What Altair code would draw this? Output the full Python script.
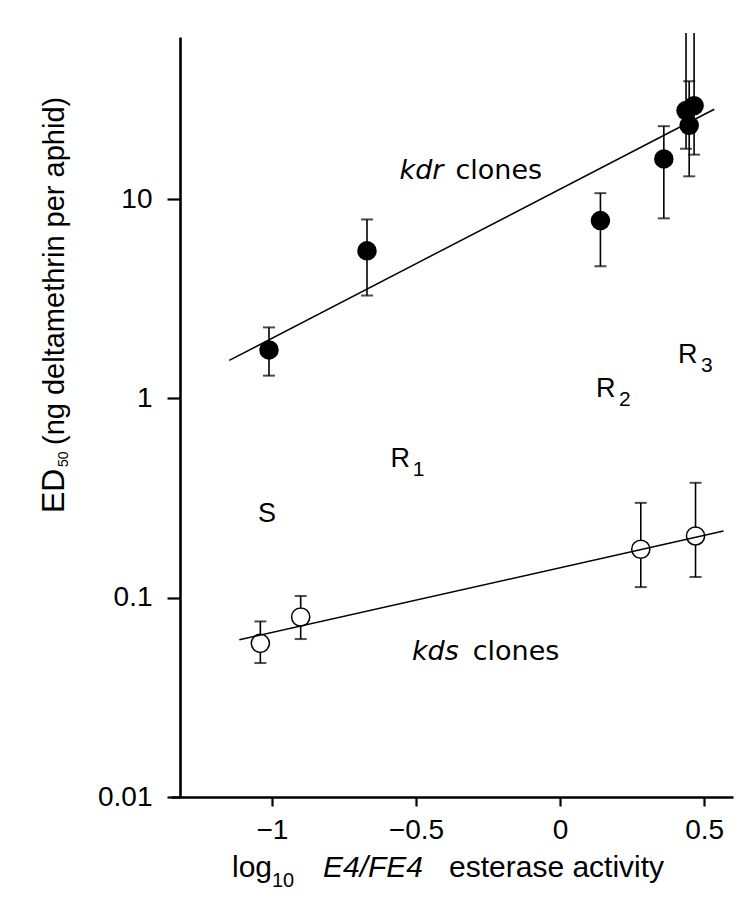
import altair as alt
import pandas as pd

# ---- data ----
# kdr clones (filled circles)
kdr_x = [-1.01, -0.67, 0.14, 0.36, 0.437, 0.465, 0.448]
kdr_y = [1.75, 5.5, 7.8, 15.9, 27.8, 29.4, 23.4]
kdr_lo = [1.30, 3.28, 4.6, 8.0, 17.9, 16.7, 13.0]
kdr_hi = [2.27, 7.9, 10.7, 23.2, 68.0, 68.0, 39.0]   # 68 = runs off the top

# kds clones (open circles)
kds_x = [-1.04, -0.90, 0.28, 0.47]
kds_y = [0.059, 0.080, 0.175, 0.204]
kds_lo = [0.047, 0.062, 0.113, 0.127]
kds_hi = [0.076, 0.102, 0.299, 0.377]

# fitted lines (end points)
kdr_fit_x = [-1.148, 0.535]
kdr_fit_y = [1.55, 28.2]
kds_fit_x = [-1.113, 0.567]
kds_fit_y = [0.0615, 0.216]

x_ticks = [-1, -0.5, 0, 0.5]
y_ticks = [0.01, 0.1, 1, 10]
x_domain = [-1.35, 0.6]
y_domain = [0.01, 65]

# region labels
reg_text = ["R", "R", "R"]
reg_x = [-0.588, 0.1246, 0.409]
reg_y = [0.450, 1.01, 1.51]
sub_text = ["1", "2", "3"]
sub_x = [-0.511, 0.2043, 0.4887]
sub_y = [0.410, 0.92, 1.35]
s_text = ["S"]
s_x = [-1.017]
s_y = [0.239]

# clone labels
clone_ital = ["kdr", "kds"]
clone_ital_x = [-0.557, -0.514]
clone_word_x = [-0.363, -0.303]
clone_y = [12.6, 0.0485]

# ---- tables ----
pts = pd.DataFrame({
    "x": kdr_x + kds_x,
    "y": kdr_y + kds_y,
    "lo": kdr_lo + kds_lo,
    "hi": kdr_hi + kds_hi,
    "grp": ["kdr"] * len(kdr_x) + ["kds"] * len(kds_x),
})
fits = pd.DataFrame({
    "x": kdr_fit_x + kds_fit_x,
    "y": kdr_fit_y + kds_fit_y,
    "grp": ["kdr"] * 2 + ["kds"] * 2,
})
regs = pd.DataFrame({"t": reg_text, "x": reg_x, "y": reg_y})
subs = pd.DataFrame({"t": sub_text, "x": sub_x, "y": sub_y})
sreg = pd.DataFrame({"t": s_text, "x": s_x, "y": s_y})
clones = pd.DataFrame({"t": clone_ital, "x": clone_ital_x, "x2": clone_word_x,
                       "y": clone_y, "w": ["clones", "clones"]})

LABEL_FONT = "Liberation Sans"
ANN_FONT = "DejaVu Sans"

xs = alt.Scale(domain=x_domain, nice=False, zero=False)
ys = alt.Scale(type="log", domain=y_domain, nice=False)
xaxis = alt.Axis(values=x_ticks, format="~g", tickSize=9, labelPadding=10, title=None)
yaxis = alt.Axis(values=y_ticks, format="~g", tickSize=13, labelPadding=15, offset=-9, title=None)

X = lambda f: alt.X(f, type="quantitative", scale=xs, axis=xaxis)
Y = lambda f: alt.Y(f, type="quantitative", scale=ys, axis=yaxis)

base = alt.Chart(pts)

bars = base.mark_rule(color="black", strokeWidth=1.6).encode(
    x=X("x"), y=Y("lo"), y2="hi")
caps_lo = base.mark_tick(orient="horizontal", size=12, thickness=2, color="black").encode(
    x=X("x"), y=Y("lo"))
caps_hi = base.mark_tick(orient="horizontal", size=12, thickness=2, color="black").transform_filter(
    alt.datum.hi < 65).encode(x=X("x"), y=Y("hi"))

filled = base.transform_filter(alt.datum.grp == "kdr").mark_point(
    shape="circle", filled=True, size=380, color="black", opacity=1).encode(x=X("x"), y=Y("y"))
opened = base.transform_filter(alt.datum.grp == "kds").mark_point(
    shape="circle", filled=True, size=330, fill="white", stroke="black", strokeWidth=1.5,
    opacity=1).encode(x=X("x"), y=Y("y"))

lines = alt.Chart(fits).mark_line(color="black", strokeWidth=1.5).encode(
    x=X("x"), y=Y("y"), detail="grp:N")

reg_layer = alt.Chart(regs).mark_text(font=LABEL_FONT, fontSize=27, align="left",
                                      baseline="alphabetic", color="black").encode(
    x=X("x"), y=Y("y"), text="t:N")
s_layer = alt.Chart(sreg).mark_text(font=LABEL_FONT, fontSize=27, align="center",
                                    baseline="alphabetic", color="black").encode(
    x=X("x"), y=Y("y"), text="t:N")
sub_layer = alt.Chart(subs).mark_text(font=LABEL_FONT, fontSize=21, align="left",
                                      baseline="alphabetic", color="black").encode(
    x=X("x"), y=Y("y"), text="t:N")
clone_it = alt.Chart(clones).mark_text(font=ANN_FONT, fontSize=27, fontStyle="italic",
                                       align="left", baseline="alphabetic", color="black").encode(
    x=X("x"), y=Y("y"), text="t:N")
clone_wd = alt.Chart(clones).mark_text(font=ANN_FONT, fontSize=27, align="left",
                                       baseline="alphabetic", color="black").encode(
    x=X("x2"), y=Y("y"), text="w:N")


def label(text, x, y, size, style="normal", angle=0, font=LABEL_FONT):
    return alt.Chart(pd.DataFrame({"t": [text]})).mark_text(
        font=font, fontSize=size, fontStyle=style, angle=angle, align="left",
        baseline="alphabetic", color="black").encode(
        x=alt.value(x), y=alt.value(y), text="t:N")


titles = [
    label("log", 61, 840, 30),
    label("10", 101, 850, 20),
    label("E4/FE4", 152, 840, 30, style="italic"),
    label("esterase activity", 278, 840, 30),
    label("ED", -107, 476, 32, angle=270),
    label("50", -103, 430, 14, angle=270),
    label("(ng deltamethrin per aphid)", -107, 408, 29, angle=270),
]

chart = alt.layer(
    bars, caps_lo, caps_hi, filled, opened, lines,
    reg_layer, s_layer, sub_layer, clone_it, clone_wd, *titles
).properties(
    width=562, height=760,
    autosize=alt.AutoSizeParams(type="none"),
    padding={"left": 163, "top": 29, "right": 10, "bottom": 100},
    background="white",
).configure_view(strokeWidth=0).configure_axis(
    domainColor="black", domainWidth=2.6, tickColor="black", tickWidth=2.2,
    labelFont=LABEL_FONT, labelFontSize=28, labelColor="black", grid=False,
)

chart.save("out.html", embed_options={"renderer": "svg", "actions": False})
